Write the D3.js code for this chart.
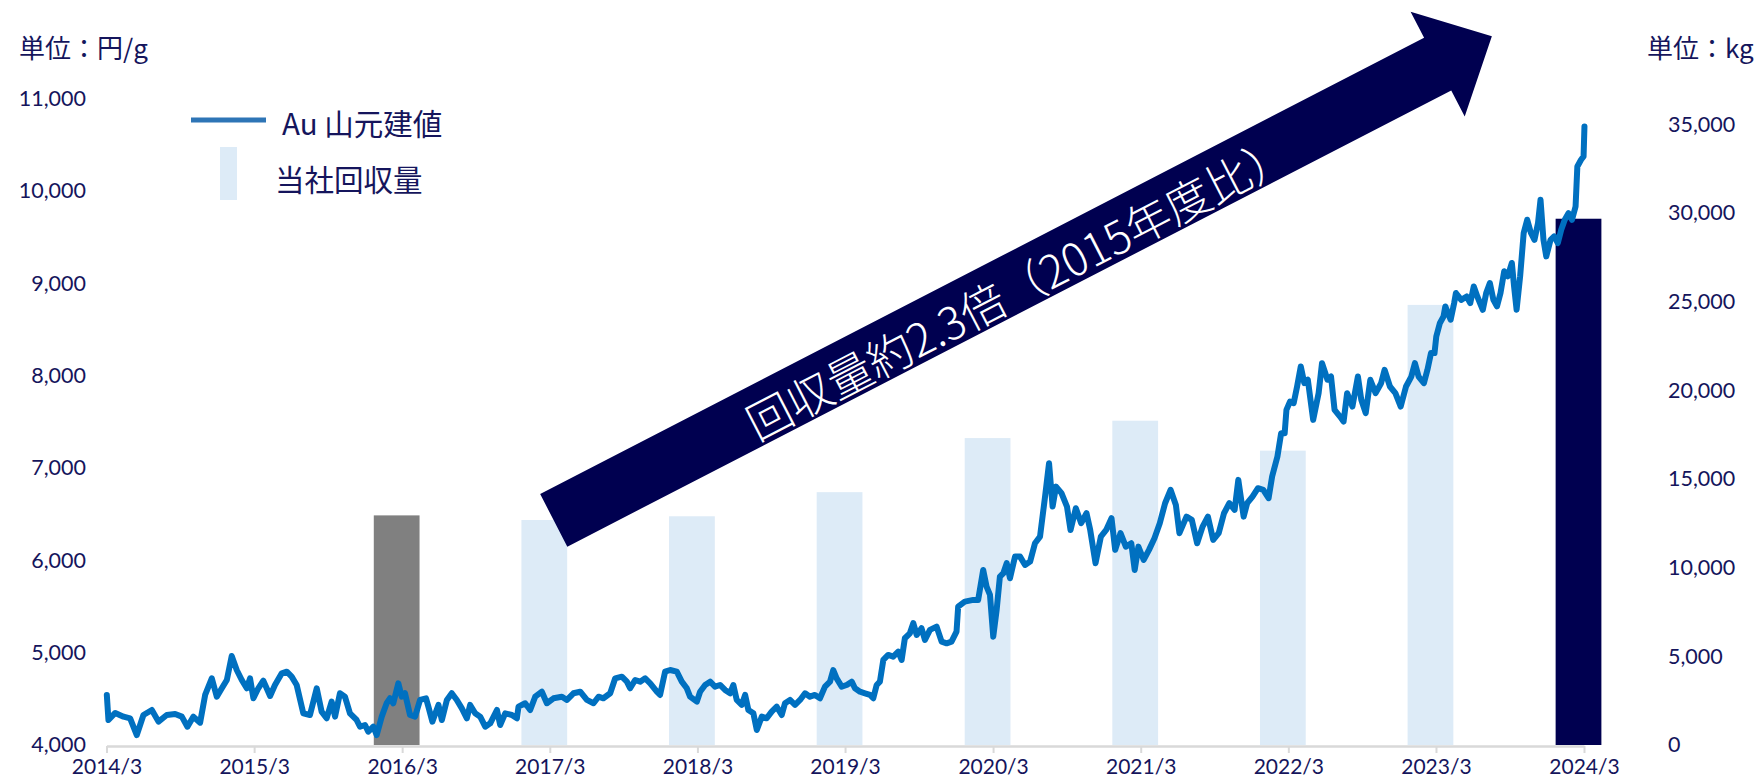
<!DOCTYPE html>
<html><head><meta charset="utf-8">
<script src="https://cdn.jsdelivr.net/npm/d3@7"></script>
<style>body{margin:0;background:#fff}svg{display:block}</style>
</head><body>
<svg id="chart" width="1757" height="781"></svg>
<script>
// ---- data ----
const xTickLabels = ["2014/3","2015/3","2016/3","2017/3","2018/3","2019/3","2020/3","2021/3","2022/3","2023/3","2024/3"];
const leftTicks = [4000,5000,6000,7000,8000,9000,10000,11000];
const rightTicks = [0,5000,10000,15000,20000,25000,30000,35000];
const barLabels = ["2016/3","2017/3","2018/3","2019/3","2020/3","2021/3","2022/3","2023/3","2024/3"];
const recoveryKg = [12950,12690,12900,14260,17310,18290,16600,24820,29680];
const barKinds = ["base","normal","normal","normal","normal","normal","normal","normal","latest"];
// gold price (JPY/g), time as decimal year
const goldTime = [
2014.246,2014.257,2014.303,2014.359,2014.404,2014.449,2014.494,2014.551,2014.596,2014.652,2014.709,2014.754,2014.792,2014.832,2014.878,2014.912,2014.957,2014.991,
2015.025,2015.059,2015.092,2015.126,2015.160,2015.194,2015.216,2015.239,2015.272,2015.306,2015.352,2015.385,2015.431,2015.465,2015.498,2015.532,2015.577,2015.622,2015.668,2015.701,2015.735,2015.769,2015.792,2015.825,2015.859,2015.893,2015.938,2015.961,2015.995,
2016.017,2016.051,2016.074,2016.108,2016.141,2016.164,2016.186,2016.220,2016.243,2016.265,2016.299,2016.333,2016.367,2016.407,2016.423,2016.450,2016.491,2016.514,2016.548,2016.581,2016.615,2016.649,2016.683,2016.705,2016.739,2016.773,2016.807,2016.841,2016.886,2016.908,2016.942,2016.987,
2017.021,2017.032,2017.077,2017.111,2017.145,2017.190,2017.224,2017.269,2017.326,2017.360,2017.404,2017.450,2017.495,2017.540,2017.574,2017.607,2017.653,2017.687,2017.732,2017.766,2017.788,2017.822,2017.856,2017.890,2017.924,2017.969,2017.991,
2018.025,2018.059,2018.104,2018.138,2018.172,2018.194,2018.240,2018.262,2018.296,2018.330,2018.363,2018.397,2018.431,2018.465,2018.487,2018.510,2018.544,2018.567,2018.589,2018.623,2018.646,2018.680,2018.713,2018.747,2018.781,2018.815,2018.837,2018.871,2018.905,2018.939,2018.973,
2019.006,2019.040,2019.074,2019.108,2019.142,2019.164,2019.187,2019.221,2019.255,2019.289,2019.311,2019.345,2019.379,2019.413,2019.435,2019.458,2019.480,2019.503,2019.536,2019.570,2019.604,2019.627,2019.649,2019.683,2019.706,2019.729,2019.762,2019.785,2019.819,2019.864,2019.898,2019.932,2019.965,2019.999,
2020.010,2020.055,2020.112,2020.145,2020.179,2020.202,2020.225,2020.247,2020.270,2020.292,2020.315,2020.338,2020.360,2020.394,2020.428,2020.462,2020.496,2020.529,2020.563,2020.597,2020.624,2020.648,2020.671,2020.708,2020.745,2020.769,2020.805,2020.841,2020.877,2020.902,2020.938,2020.974,
2021.010,2021.046,2021.071,2021.107,2021.143,2021.180,2021.203,2021.228,2021.264,2021.300,2021.337,2021.373,2021.409,2021.446,2021.482,2021.506,2021.554,2021.590,2021.626,2021.663,2021.699,2021.735,2021.772,2021.808,2021.844,2021.880,2021.905,2021.941,2021.965,
2022.001,2022.038,2022.074,2022.110,2022.134,2022.170,2022.195,2022.219,2022.231,2022.255,2022.280,2022.303,2022.328,2022.352,2022.376,2022.412,2022.449,2022.472,2022.509,2022.533,2022.557,2022.594,2022.618,2022.642,2022.678,2022.715,2022.738,2022.768,2022.799,2022.835,2022.872,2022.896,2022.932,2022.969,
2023.005,2023.041,2023.077,2023.101,2023.126,2023.162,2023.186,2023.210,2023.234,2023.246,2023.270,2023.295,2023.307,2023.343,2023.367,2023.379,2023.415,2023.452,2023.476,2023.500,2023.524,2023.561,2023.584,2023.609,2023.633,2023.657,2023.681,2023.706,2023.730,2023.758,2023.773,2023.790,2023.814,2023.838,2023.862,2023.887,2023.911,2023.935,2023.952,2023.972,2023.991,
2024.020,2024.044,2024.069,2024.092,2024.116,2024.141,2024.165,2024.189,2024.201,2024.226,2024.243,2024.249];
const goldPrice = [
4542,4271,4347,4307,4289,4108,4325,4379,4253,4325,4336,4307,4198,4307,4242,4542,4722,4523,
4614,4704,4964,4812,4704,4614,4722,4506,4614,4697,4531,4650,4777,4794,4740,4650,4343,4325,4614,4361,4289,4469,4307,4560,4523,4343,4271,4198,4217,
4144,4198,4108,4307,4452,4506,4452,4668,4523,4560,4325,4307,4488,4506,4415,4253,4434,4271,4488,4560,4488,4397,4289,4434,4343,4307,4198,4235,4379,4217,4343,4325,
4289,4415,4452,4379,4523,4577,4452,4506,4523,4488,4560,4577,4488,4452,4523,4506,4560,4722,4740,4686,4614,4704,4686,4722,4668,4577,4542,
4794,4812,4794,4686,4614,4523,4469,4577,4650,4686,4632,4650,4596,4560,4650,4488,4434,4542,4379,4343,4163,4307,4289,4361,4415,4325,4452,4488,4434,4488,4560,
4523,4542,4506,4632,4686,4812,4722,4632,4650,4686,4614,4577,4560,4542,4506,4650,4686,4921,4975,4957,5011,4921,5156,5210,5319,5192,5264,5138,5246,5282,5119,5101,5119,5228,
5498,5553,5571,5571,5896,5715,5625,5173,5463,5824,5860,5969,5806,6040,6040,5950,5986,6185,6257,6690,7052,6582,6798,6727,6582,6329,6564,6402,6510,6329,5969,6257,
6329,6456,6113,6294,6148,6185,5896,6148,6004,6113,6239,6402,6618,6763,6600,6294,6473,6438,6185,6365,6473,6221,6294,6510,6618,6546,6871,6473,6618,
6690,6781,6763,6673,6907,7124,7377,7377,7629,7719,7702,7882,8099,7919,7955,7521,7810,8135,7955,7990,7629,7557,7503,7810,7665,7990,7738,7594,7955,7810,7918,8063,7882,7810,
7665,7882,7990,8135,7990,7919,8063,8244,8244,8424,8568,8640,8749,8605,8785,8894,8821,8857,8785,8966,8857,8713,8894,9002,8821,8749,8894,9130,9076,9220,8966,8713,9076,9545,9688,9545,9471,9652,9905,9471,9291,
9471,9508,9435,9580,9688,9760,9688,9832,10265,10338,10374,10699];

// ---- setup ----
const svg = d3.select("#chart");
const NUM_FONT = "Lato, 'Noto Sans', sans-serif";
const JP_FONT = "'Noto Sans CJK JP', 'Noto Sans', sans-serif";
const TEXT_COL = "#15155c";
const NAVY = "#000050";

function decToDate(t){
  const y = Math.floor(t);
  const s = new Date(y,0,1).getTime(), e = new Date(y+1,0,1).getTime();
  return new Date(s + (t - y) * (e - s));
}
function labelToDate(l){ const [y,m] = l.split("/").map(Number); return new Date(y, m-1, 31); }

const x = d3.scaleTime().domain([labelToDate("2014/3"), labelToDate("2024/3")]).range([106.5, 1584]);
const yL = d3.scaleLinear().domain([4000, 11000]).range([745, 98.6]);
const yR = d3.scaleLinear().domain([0, 35000]).range([745, 124.4]);

// ---- bars ----
const yearPx = x(labelToDate("2015/3")) - x(labelToDate("2014/3"));
const barW = yearPx * 0.31;
const barColor = {base:"#808080", normal:"#ddebf7", latest:NAVY};
svg.append("g").selectAll("rect").data(barLabels.map((l,i)=>({l, v:recoveryKg[i], k:barKinds[i]})))
  .join("rect")
  .attr("x", d => x(labelToDate(d.l)) - barW*0.62)
  .attr("y", d => yR(d.v))
  .attr("width", barW)
  .attr("height", d => yR(0) - yR(d.v))
  .attr("fill", d => barColor[d.k]);

// ---- x axis ----
const xAxis = d3.axisBottom(x)
  .tickValues(xTickLabels.map(labelToDate))
  .tickFormat((d,i) => xTickLabels[i])
  .tickSize(7).tickSizeOuter(0).tickPadding(6);
const gx = svg.append("g").attr("transform", "translate(0,746)").call(xAxis);
gx.select(".domain").attr("stroke", "#d9d9d9").attr("stroke-width", 2.5);
gx.selectAll(".tick line").attr("stroke", "#d9d9d9").attr("stroke-width", 2);
gx.selectAll(".tick text").attr("fill", TEXT_COL).attr("font-family", NUM_FONT).attr("font-size", 21);

// ---- left axis ----
const gl = svg.append("g").attr("transform", "translate(86,0)")
  .call(d3.axisLeft(yL).tickValues(leftTicks).tickFormat(d3.format(",")).tickSize(0).tickPadding(0));
gl.select(".domain").remove();
gl.selectAll(".tick text").attr("fill", TEXT_COL).attr("font-family", NUM_FONT).attr("font-size", 21.5);

// ---- right axis ----
const gr = svg.append("g").attr("transform", "translate(1668,0)")
  .call(d3.axisRight(yR).tickValues(rightTicks).tickFormat(d3.format(",")).tickSize(0).tickPadding(0));
gr.select(".domain").remove();
gr.selectAll(".tick text").attr("fill", TEXT_COL).attr("font-family", NUM_FONT).attr("font-size", 21.5);

// ---- gold line ----
const line = d3.line().x(d => x(decToDate(d[0]))).y(d => yL(d[1])).curve(d3.curveLinear);
svg.append("path").datum(goldTime.map((t,i)=>[t, goldPrice[i]]))
  .attr("d", line).attr("fill", "none").attr("stroke", "#0070c0")
  .attr("stroke-width", 6).attr("stroke-linejoin", "round").attr("stroke-linecap", "round");

// ---- arrow annotation ----
const tail = [553.75, 520.35], theta = 27.3 * Math.PI/180;
const shaftLen = 994.7, headLen = 61, shaftHalf = 29.6, headHalf = 59;
const u = [Math.cos(theta), -Math.sin(theta)], n = [Math.sin(theta), Math.cos(theta)];
const P = (s, p) => [tail[0] + u[0]*s + n[0]*p, tail[1] + u[1]*s + n[1]*p];
const arrowPts = [P(0,-shaftHalf), P(shaftLen,-shaftHalf), P(shaftLen,-headHalf), P(shaftLen+headLen,0),
                  P(shaftLen,headHalf), P(shaftLen,shaftHalf), P(0,shaftHalf)];
svg.append("polygon").attr("points", arrowPts.map(p=>p.join(",")).join(" ")).attr("fill", NAVY);
const tc = P(520, 4);
svg.append("text").attr("transform", `translate(${tc[0]},${tc[1]}) rotate(${-27.3})`)
  .attr("text-anchor", "middle").attr("dominant-baseline", "central")
  .attr("font-family", JP_FONT).attr("font-size", 45).attr("font-weight", 300).attr("fill", "#fff")
  .text("回収量約2.3倍（2015年度比）");

// ---- unit labels ----
svg.append("text").attr("x", 19).attr("y", 58).attr("font-family", JP_FONT).attr("font-size", 26)
  .attr("fill", TEXT_COL).text("単位：円/g");
svg.append("text").attr("x", 1647).attr("y", 58).attr("font-family", JP_FONT).attr("font-size", 26)
  .attr("fill", TEXT_COL).text("単位：kg");

// ---- legend ----
const lg = svg.append("g");
lg.append("line").attr("x1", 191).attr("x2", 266).attr("y1", 120).attr("y2", 120)
  .attr("stroke", "#2e75b6").attr("stroke-width", 5);
lg.append("text").attr("x", 282).attr("y", 122).attr("dominant-baseline", "central")
  .attr("font-family", JP_FONT).attr("font-size", 29.5).attr("fill", TEXT_COL).text("Au 山元建値");
lg.append("rect").attr("x", 220).attr("y", 147).attr("width", 17).attr("height", 53).attr("fill", "#ddebf7");
lg.append("text").attr("x", 275).attr("y", 178).attr("dominant-baseline", "central")
  .attr("font-family", JP_FONT).attr("font-size", 29.5).attr("fill", TEXT_COL).text("当社回収量");
</script>
</body></html>
